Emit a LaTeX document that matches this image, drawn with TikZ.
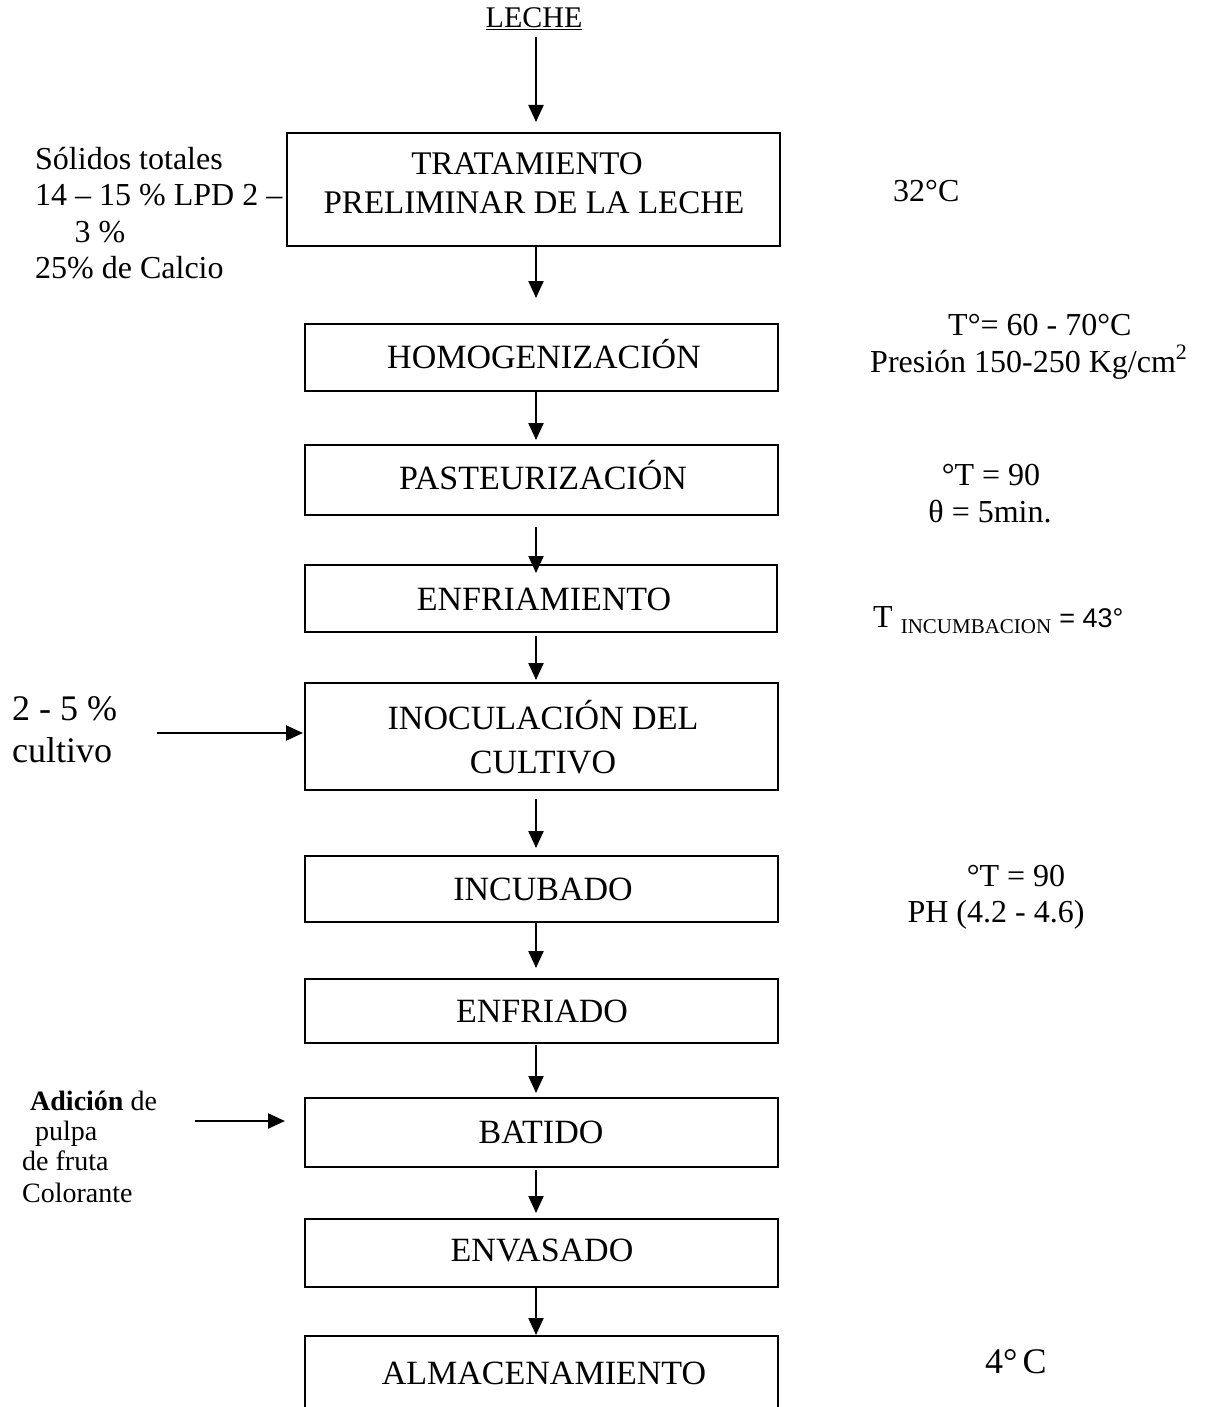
\documentclass[tikz,border=0pt]{standalone}
\usepackage{fontspec}
\setmainfont{Liberation Serif}
\newfontfamily\sansf{Liberation Sans}
\usetikzlibrary{arrows.meta}
\begin{document}
\begin{tikzpicture}[x=1pt,y=-1pt,
  procbox/.style={draw, line width=2.2pt, inner sep=0pt, outer sep=0pt, anchor=north west},
  boxtxt/.style={inner sep=0pt, anchor=base, font=\fontsize{34}{38}\selectfont},
  sidetxt/.style={inner sep=0pt, anchor=base west, font=\fontsize{32}{36}\selectfont},
  flow/.style={line width=2.2pt, -{Triangle[length=17pt,width=15pt]}}]
\useasboundingbox (0,0) rectangle (1220,1407);
\clip (0,0) rectangle (1220,1407);

% title
\node[inner sep=0pt, anchor=base, font=\fontsize{30}{34}\selectfont] (leche) at (534,28) {\underline{LECHE}};

% process boxes
\node[procbox, minimum width=493pt, minimum height=113pt] (b1) at (287,133) {};
\node[procbox, minimum width=473pt, minimum height=67pt] (b2) at (305,324) {};
\node[procbox, minimum width=473pt, minimum height=70pt] (b3) at (305,445) {};
\node[procbox, minimum width=472pt, minimum height=67pt] (b4) at (305,565) {};
\node[procbox, minimum width=473pt, minimum height=107pt] (b5) at (305,683) {};
\node[procbox, minimum width=473pt, minimum height=66pt] (b6) at (305,856) {};
\node[procbox, minimum width=473pt, minimum height=64pt] (b7) at (305,979) {};
\node[procbox, minimum width=473pt, minimum height=69pt] (b8) at (305,1098) {};
\node[procbox, minimum width=473pt, minimum height=68pt] (b9) at (305,1219) {};
\node[procbox, minimum width=473pt, minimum height=95pt] (b10) at (305,1336) {};

% box texts
\node[boxtxt, font=\fontsize{33}{38}\selectfont] (t1a) at (527,175) {TRATAMIENTO};
\node[boxtxt, font=\fontsize{33}{38}\selectfont] (t1b) at (534,213) {PRELIMINAR DE LA LECHE};
\node[boxtxt] (t2) at (544,368) {HOMOGENIZACIÓN};
\node[boxtxt] (t3) at (543,489) {PASTEURIZACIÓN};
\node[boxtxt] (t4) at (544,610) {ENFRIAMIENTO};
\node[boxtxt] (t5a) at (543,729) {INOCULACIÓN DEL};
\node[boxtxt] (t5b) at (543,773) {CULTIVO};
\node[boxtxt] (t6) at (543,900) {INCUBADO};
\node[boxtxt] (t7) at (542,1022) {ENFRIADO};
\node[boxtxt] (t8) at (541,1143) {BATIDO};
\node[boxtxt] (t9) at (542,1261) {ENVASADO};
\node[boxtxt] (t10) at (544,1384) {ALMACENAMIENTO};

% left annotations
\node[sidetxt] (l1) at (35,170) {Sólidos totales};
\node[sidetxt] (l2) at (35,205) {14 – 15 \% LPD 2 –};
\node[sidetxt, anchor=base] (l3) at (100,242) {3 \%};
\node[sidetxt] (l4) at (35,278) {25\% de Calcio};

\node[sidetxt, font=\fontsize{36}{40}\selectfont] (c1) at (12,720) {2 - 5 \%};
\node[sidetxt, font=\fontsize{36}{40}\selectfont] (c2) at (12,762) {cultivo};

\node[sidetxt, font=\fontsize{28}{32}\selectfont] (a1) at (30,1110) {\bfseries Adición\mdseries{} de};
\node[sidetxt, font=\fontsize{28}{32}\selectfont] (a2) at (35,1140) {pulpa};
\node[sidetxt, font=\fontsize{28}{32}\selectfont] (a3) at (22,1170) {de fruta};
\node[sidetxt, font=\fontsize{28}{32}\selectfont] (a4) at (22,1202) {Colorante};

% right annotations
\node[sidetxt] (r1) at (893,201) {32°C};
\node[sidetxt] (r2) at (948,335) {T°= 60 - 70°C};
\node[sidetxt] (r3) at (870,372) {Presión 150-250 Kg/cm\raisebox{13pt}{\fontsize{22}{22}\selectfont 2}};
\node[sidetxt, anchor=base] (r4) at (991,485) {°T = 90};
\node[sidetxt, anchor=base] (r5) at (990,522) {θ = 5min.};
\node[sidetxt] (r6) at (873,627) {T \raisebox{-6pt}{\fontsize{21}{21}\selectfont INCUMBACION} {\sansf\fontsize{27}{30}\selectfont = 43°}};
\node[sidetxt, anchor=base] (r7) at (1016,886) {°T = 90};
\node[sidetxt, anchor=base] (r8) at (996,922) {PH (4.2 - 4.6)};
\node[sidetxt, font=\fontsize{36}{40}\selectfont] (r9) at (985,1373) {4°\hspace{5pt}C};

% main flow
\coordinate (ax) at (536,0);
\draw[flow, shorten <=7pt, shorten >=11pt] (leche.south -| ax) -- (b1.north -| ax);
\draw[flow, shorten >=26pt] (b1.south -| ax) -- (b2.north -| ax);
\draw[flow, shorten <=1pt, shorten >=5pt] (b2.south -| ax) -- (b3.north -| ax);
\draw[flow, shorten <=12pt, shorten >=-8pt] (b3.south -| ax) -- (b4.north -| ax);
\draw[flow, shorten <=4pt, shorten >=3pt] (b4.south -| ax) -- (b5.north -| ax);
\draw[flow, shorten <=9pt, shorten >=8pt] (b5.south -| ax) -- (b6.north -| ax);
\draw[flow, shorten <=1pt, shorten >=11pt] (b6.south -| ax) -- (b7.north -| ax);
\draw[flow, shorten <=2pt, shorten >=5pt] (b7.south -| ax) -- (b8.north -| ax);
\draw[flow, shorten <=3pt, shorten >=6pt] (b8.south -| ax) -- (b9.north -| ax);
\draw[flow, shorten >=1pt] (b9.south -| ax) -- (b10.north -| ax);

% side inputs
\coordinate (s1) at (157,733);
\draw[flow, shorten >=2pt] (s1) -- (s1 -| b5.west);
\coordinate (s2) at (195,1121);
\draw[flow, shorten >=20pt] (s2) -- (s2 -| b8.west);
\end{tikzpicture}
\end{document}
